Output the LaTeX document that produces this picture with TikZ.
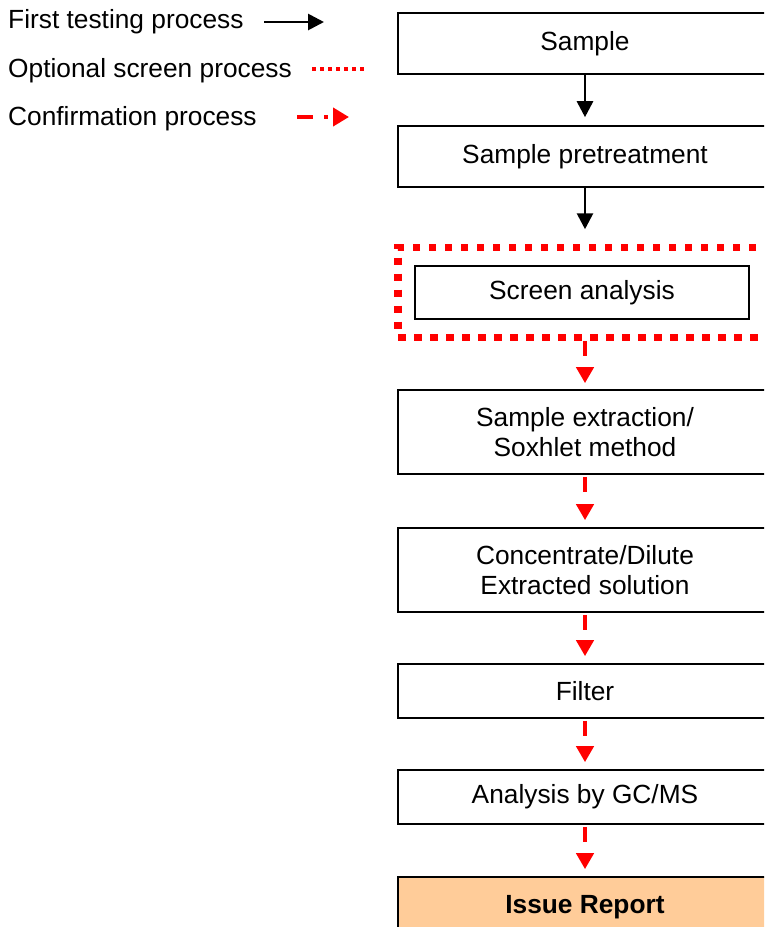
\documentclass[tikz,border=0pt]{standalone}
\usepackage{fontspec}
\setmainfont{Liberation Sans}
\usetikzlibrary{arrows.meta}
\definecolor{reportfill}{HTML}{FFCC99}
\tikzset{
  box/.style={draw=black, line width=1.6pt, rectangle, minimum width=374pt, inner sep=0pt, align=center, font=\fontsize{26.3}{30}\selectfont},
  blackarrow/.style={draw=black, line width=2.8pt, -{Triangle[length=16pt,width=16pt]}},
  redarrow/.style={draw=red, line width=4.5pt, dash pattern=on 15pt off 100pt, -{Triangle[length=16pt,width=17pt]}, shorten >=7pt},
  legendtext/.style={anchor=base west, inner sep=0pt, font=\fontsize{26.3}{30}\selectfont},
  dotframe/.style={draw=red, line width=7.5pt, dash pattern=on 7.5pt off 8.5pt, rectangle, minimum width=374pt, minimum height=90pt, inner sep=0pt}
}
\begin{document}
\begin{tikzpicture}[x=1pt,y=-1pt]
\useasboundingbox (0,0) rectangle (764,927);
\clip (0,0) rectangle (764,927);

% legend
\node[legendtext] (l1) at (8,28.5) {First testing process};
\node[legendtext] (l2) at (8,77) {Optional screen process};
\node[legendtext] (l3) at (8,125.5) {Confirmation process};
\coordinate (a1) at (264,22);
\coordinate (b1) at (324,22);
\draw[blackarrow] (a1) -- (b1);
\coordinate (a2) at (312,69);
\coordinate (b2) at (366,69);
\draw[red, line width=4.5pt, dash pattern=on 4pt off 4pt] (a2) -- (b2);
\coordinate (a3) at (297,117);
\coordinate (b3) at (349,117);
\draw[red, line width=4.5pt, dash pattern=on 16pt off 11pt on 4pt off 100pt, -{Triangle[length=16pt,width=18pt]}] (a3) -- (b3);

% flowchart
\node[box, minimum height=61pt] (sample) at (585,43.5) {Sample};
\node[box, minimum height=61pt] (pre) at (585,156.5) {Sample pretreatment};
\node[dotframe] (frame) at (585,292.5) {};
\node[box, minimum width=334pt, minimum height=53pt] (screen) at (582,292.5) {Screen analysis};
\node[box, minimum height=84pt] (extract) at (585,432) {Sample extraction/\\Soxhlet method};
\node[box, minimum height=84pt] (conc) at (585,570) {Concentrate/Dilute\\Extracted solution};
\node[box, minimum height=54pt] (filter) at (585,691) {Filter};
\node[box, minimum height=54pt] (gcms) at (585,797) {Analysis by GC/MS};
\node[box, minimum height=60pt, fill=reportfill, font=\fontsize{26.3}{30}\selectfont\bfseries] (report) at (585,907) {Issue Report};

\draw[blackarrow, shorten >=8pt] (sample) -- (pre);
\draw[blackarrow, shorten >=14.5pt] (pre) -- (frame);
\draw[redarrow, shorten >=6pt] (frame) -- (extract);
\draw[redarrow, shorten <=2pt] (extract) -- (conc);
\draw[redarrow, shorten <=2pt] (conc) -- (filter);
\draw[redarrow, shorten <=2pt] (filter) -- (gcms);
\draw[redarrow, shorten <=2pt] (gcms) -- (report);
\end{tikzpicture}
\end{document}
